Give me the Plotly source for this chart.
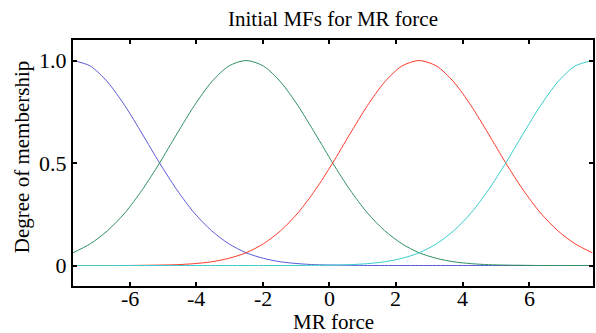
import plotly.graph_objects as go

x_vals = [-7.7, -7.18, -6.66, -6.14, -5.62, -5.1, -4.58, -4.06, -3.54, -3.02,
          -2.5, -1.98, -1.46, -0.94, -0.42, 0.1, 0.62, 1.14, 1.66, 2.18,
          2.7, 3.22, 3.74, 4.26, 4.78, 5.3, 5.82, 6.34, 6.86, 7.38, 7.9]

mf1 = [1, 0.973, 0.895, 0.779, 0.642, 0.500, 0.369, 0.257, 0.170, 0.106,
       0.062, 0.035, 0.018, 0.009, 0.004, 0.002, 0.001, 0, 0, 0,
       0, 0, 0, 0, 0, 0, 0, 0, 0, 0, 0]
mf2 = [0.062, 0.106, 0.170, 0.257, 0.369, 0.500, 0.642, 0.779, 0.895, 0.973,
       1, 0.973, 0.895, 0.779, 0.642, 0.500, 0.369, 0.257, 0.170, 0.106,
       0.062, 0.035, 0.018, 0.009, 0.004, 0.002, 0.001, 0, 0, 0, 0]
mf3 = [0, 0, 0, 0, 0.001, 0.002, 0.004, 0.009, 0.018, 0.035,
       0.062, 0.106, 0.170, 0.257, 0.369, 0.500, 0.642, 0.779, 0.895, 0.973,
       1, 0.973, 0.895, 0.779, 0.642, 0.500, 0.369, 0.257, 0.170, 0.106, 0.062]
mf4 = [0, 0, 0, 0, 0, 0, 0, 0, 0, 0,
       0, 0, 0, 0, 0.001, 0.002, 0.004, 0.009, 0.018, 0.035,
       0.062, 0.106, 0.170, 0.257, 0.369, 0.500, 0.642, 0.779, 0.895, 0.973, 1]

series = [mf1, mf2, mf3, mf4]
colors = ["#5a5ad8", "#2f9060", "#ff3a2a", "#38cccc"]

x_ticks = [-6, -4, -2, 0, 2, 4, 6]
x_tick_text = ["-6", "-4", "-2", "0", "2", "4", "6"]
y_ticks = [0, 0.5, 1.0]
y_tick_text = ["0", "0.5", "1.0"]

FONT = "Liberation Serif, Times New Roman, serif"

fig = go.Figure()
for ys, c in zip(series, colors):
    fig.add_trace(go.Scatter(x=x_vals, y=ys, mode="lines",
                             line=dict(color=c, width=1, shape="spline", smoothing=0.8),
                             showlegend=False, hoverinfo="skip"))

axis_common = dict(showline=True, linecolor="black", linewidth=2, mirror="ticks",
                   ticks="inside", ticklen=4, tickwidth=2, tickcolor="black",
                   showgrid=False, zeroline=False,
                   tickfont=dict(family=FONT, size=22, color="black"))

fig.update_xaxes(range=[-7.7, 7.92], tickvals=x_ticks, showticklabels=False, **axis_common)
fig.update_yaxes(range=[-0.1, 1.1], tickvals=y_ticks, ticktext=y_tick_text, **axis_common)

annotations = [
    dict(text="Initial MFs for MR force", xref="paper", yref="paper",
         x=0.5, y=(286 - 19) / 246, xanchor="center", yanchor="middle",
         showarrow=False, font=dict(family=FONT, size=21, color="black")),
    dict(text="MR force", xref="paper", yref="paper",
         x=0.5, y=(286 - 322) / 246, xanchor="center", yanchor="middle",
         showarrow=False, font=dict(family=FONT, size=21, color="black")),
    dict(text="Degree of membership", xref="paper", yref="paper",
         x=(22 - 73) / 522, y=(286 - 157) / 246, xanchor="center", yanchor="middle",
         textangle=-90, showarrow=False, font=dict(family=FONT, size=21, color="black")),
]
for v, t in zip(x_ticks, x_tick_text):
    annotations.append(dict(text=t, xref="x", yref="paper", x=v, y=(286 - 298) / 246,
                            xanchor="center", yanchor="middle", showarrow=False,
                            font=dict(family=FONT, size=22, color="black")))

fig.update_layout(
    width=596, height=333,
    margin=dict(l=73, r=1, t=40, b=47),
    paper_bgcolor="white", plot_bgcolor="white",
    font=dict(family=FONT, color="black"),
    annotations=annotations,
)

fig.write_html("out.html", config={"displayModeBar": False},
               post_script="document.body.style.margin='0';")
